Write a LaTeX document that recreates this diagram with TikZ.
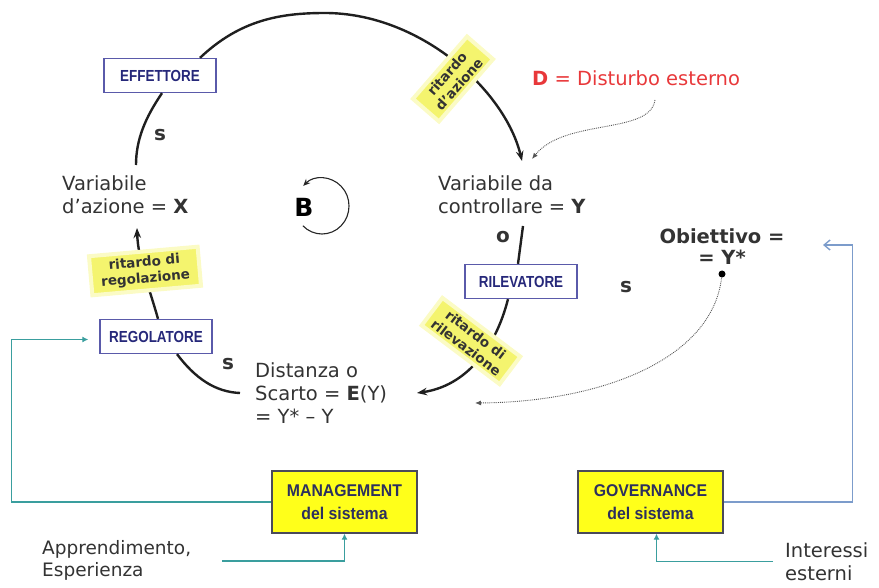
\documentclass[tikz,border=0pt]{standalone}
\usepackage{fontspec}
\setmainfont{DejaVu Sans}
\newfontfamily\boxfont[FakeStretch=0.84]{Liberation Sans}
\newfontfamily\mgfont[FakeStretch=0.93]{Liberation Sans}
\usetikzlibrary{arrows.meta}

\definecolor{txt}{HTML}{333333}
\definecolor{navy}{HTML}{26287A}
\definecolor{boxline}{HTML}{5A5AAA}
\definecolor{sticky}{HTML}{F4F46E}
\definecolor{mgyellow}{HTML}{FFFF1A}
\definecolor{mgline}{HTML}{4A4A5A}
\definecolor{mgtext}{HTML}{2C2F5E}
\definecolor{tealline}{HTML}{3A9E9E}
\definecolor{blueline}{HTML}{7C9CCB}
\definecolor{dred}{HTML}{E8383A}
\definecolor{dots}{HTML}{555555}

\tikzset{
  body/.style={inner sep=0pt, text=txt, align=left,
    font=\fontsize{19.5}{23}\selectfont},
  bigletter/.style={inner sep=0pt, text=txt,
    font=\fontsize{20}{22}\selectfont\bfseries},
  organ/.style={draw=boxline, line width=1.3pt, fill=white, text=navy,
    minimum width=112pt, minimum height=34pt, inner sep=0pt,
    font=\fontsize{16}{18}\selectfont\boxfont\bfseries},
  actor/.style={draw=mgline, line width=1.2pt, fill=mgyellow, text=mgtext,
    minimum width=145pt, minimum height=62pt, inner sep=0pt, align=center,
    font=\fontsize{17}{23}\selectfont\mgfont\bfseries},
  delay/.style={fill=sticky, draw=sticky!40, line width=4pt, text=txt,
    align=center, inner xsep=7pt, inner ysep=4pt,
    font=\fontsize{13.5}{16}\selectfont\bfseries},
  flow/.style={line width=2.4pt, draw=black!88},
  flowtip/.style={flow, -{Stealth[length=10pt,width=7.5pt]}},
  influence/.style={densely dotted, line width=0.9pt, draw=dots,
    -{Latex[length=6pt,width=5pt]}},
  steer/.style={line width=1.4pt, draw=tealline,
    -{Latex[length=6pt,width=6pt]}},
  govern/.style={line width=1.4pt, draw=blueline,
    -{Straight Barb[length=6pt,width=10pt]}},
}

\begin{document}
\begin{tikzpicture}[x=1pt,y=-1pt]
\useasboundingbox (0,0) rectangle (879,588);

% ---- organs of the loop
\node[organ] (eff) at (160,75.5) {EFFETTORE};
\node[organ] (reg) at (156,336.5) {REGOLATORE};
\node[organ] (ril) at (521,281.5) {RILEVATORE};

% ---- variables
\node[body, anchor=north west] (xvar) at (62,175)
  {Variabile\\d’azione = \textbf{X}};
\node[body, anchor=north west] (yvar) at (438,175)
  {Variabile da\\controllare = \textbf{Y}};
\node[body, anchor=north west] (evar) at (255,362)
  {Distanza o\\Scarto = \textbf{E}(Y)\\= Y* – Y};
\node[body, anchor=base west, text=dred] (dist) at (532,86)
  {\textbf{D} = Disturbo esterno};
\node[body, align=center, anchor=north, font=\fontsize{19.5}{21}\selectfont\bfseries]
  (goal) at (722,228) {Obiettivo =\\= Y*};
\node[circle, fill=black, inner sep=0pt, minimum size=7pt] (gdot) at (722,274) {};

% ---- sources outside the loop
\node[body, anchor=north west, font=\fontsize{18.5}{22}\selectfont] (learn) at (42,540)
  {Apprendimento,\\Esperienza};
\node[body, anchor=north west] (ext) at (785,542)
  {Interessi\\esterni};

% ---- management and governance
\node[actor] (mg) at (344.5,502) {MANAGEMENT\\del sistema};
\node[actor] (gov) at (650.5,502) {GOVERNANCE\\del sistema};

% ---- balancing loop marker
\draw[line width=1.1pt, draw=black!85, -{Stealth[length=7pt,width=6pt]}]
  (322,206) ++(135:27 and 28) arc[start angle=135, end angle=-134,
  x radius=27, y radius=28];
\node[inner sep=0pt, font=\fontsize{25}{25}\selectfont\bfseries, text=black]
  (bl) at (304,207) {B};

% ---- causal links of the loop (shifts are in page directions: positive yshift = up)
\draw[flowtip] ([xshift=40]eff.north) .. controls (240,20) and (280,13) ..
  (325,13) .. controls (420,13) and (505,90) .. ([xshift=84,yshift=14]yvar.north west);
\draw[flow] ([xshift=2]eff.south) .. controls (145,118) and (136,140) ..
  ([xshift=74,yshift=10]xvar.north west);
\draw[flowtip] ([xshift=2]reg.north) .. controls (150,290) and (138,260) ..
  ([xshift=75,yshift=-53]xvar.north west);
\draw[flow] ([xshift=21]reg.south) .. controls (195,378) and (215,392) ..
  ([xshift=-15,yshift=-31]evar.north west);
\draw[flow] ([xshift=85,yshift=-51]yvar.north west) -- ([xshift=-3]ril.north);
\draw[flowtip] ([xshift=-13]ril.south) .. controls (495,350) and (465,386) ..
  ([xshift=162,yshift=-31]evar.north west);

% ---- polarity marks
\node[bigletter] (s1) at (160,135) {s};
\node[bigletter] (s2) at (228,364) {s};
\node[bigletter] (o1) at (503,237) {o};
\node[bigletter] (s3) at (626,287) {s};

% ---- delays sitting on the links
\node[delay, rotate=5, inner xsep=10pt, inner ysep=5pt] (dreg) at (145,271) {ritardo di\\regolazione};
\node[delay, rotate=49, inner xsep=9pt] (dazi) at (453,79) {ritardo\\d’azione};
\node[delay, rotate=-37] (dril) at (471,341) {ritardo di\\rilevazione};

% ---- disturbance and goal
\draw[influence] ([xshift=123,yshift=-14]dist.base west) .. controls (650,135) and (565,118) ..
  ([xshift=94,yshift=16]yvar.north west);
\draw[influence] (gdot) .. controls (712,360) and (600,402) ..
  ([xshift=220,yshift=-41]evar.north west);

% ---- steering by management and governance
\draw[steer] (mg.west) -- ++(-260,0) |- ([xshift=-11,yshift=-3]reg.west);
\draw[steer] ([xshift=31,yshift=-1]learn.east) -| (mg.south);
\draw[govern] (gov.east) -- ++(129,0) |- ([xshift=101,yshift=-17]goal.north);
\draw[steer] (ext.west) ++(-12,0) -| ([xshift=6]gov.south);
\end{tikzpicture}
\end{document}
